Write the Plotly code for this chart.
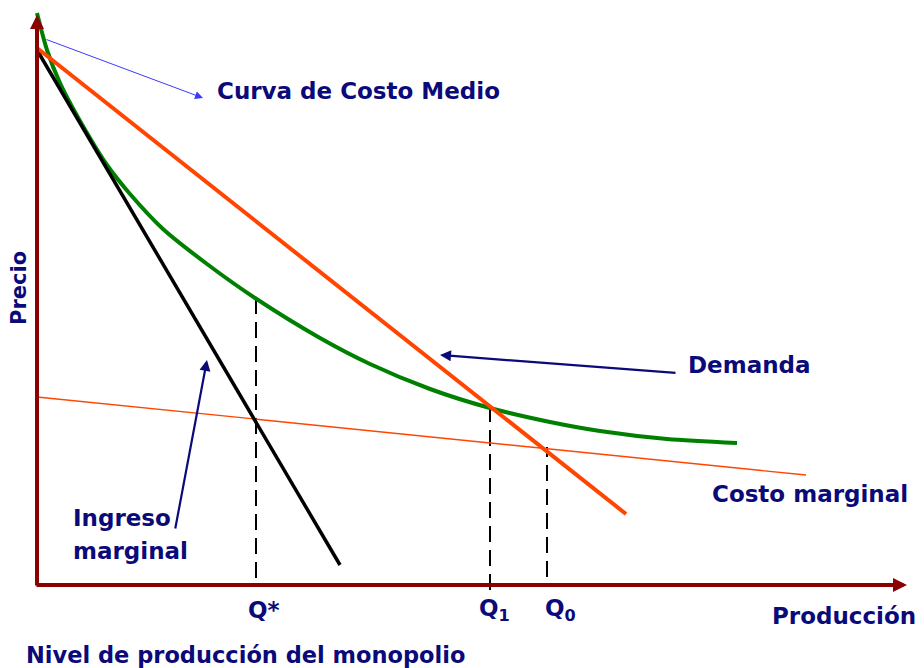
import plotly.graph_objects as go

# Coordinate system: x = output level, y = price (origin at axis corner)
# Demand curve
demand_x = [0, 589]
demand_y = [537, 71]
# Marginal revenue
mr_x = [0, 303]
mr_y = [535, 20]
# Average cost curve (Curva de Costo Medio)
ac_x = [0, 10, 23, 50, 70, 93, 126, 170, 218, 283, 333, 393, 453, 513, 563, 630, 700]
ac_y = [572, 535, 502, 452, 420, 391, 356, 321, 287, 247, 221, 196, 177, 163, 154, 146, 142]
# Marginal cost
mc_x = [0, 769]
mc_y = [188, 110]
# Quantity markers
q_names = ["Q*", "Q<sub>1</sub>", "Q<sub>0</sub>"]
q_x = [219, 453, 510]
q_top = [287, 177, 138]
q_bottom = [7, -5, 8]
q_label_x = [227, 457, 523]

NAVY = "#0a0a78"
MAROON = "#8b0000"
FONT = dict(family="DejaVu Sans", size=23, color=NAVY, weight="bold")

fig = go.Figure()

# vertical dashed lines
for qx, qt, qb in zip(q_x, q_top, q_bottom):
    fig.add_trace(go.Scatter(x=[qx, qx], y=[qb, qt], mode="lines",
                             line=dict(color="black", width=2, dash="16px,8px"),
                             hoverinfo="skip"))

fig.add_trace(go.Scatter(x=mc_x, y=mc_y, mode="lines",
                         line=dict(color="#ff4500", width=1.3), hoverinfo="skip"))
fig.add_trace(go.Scatter(x=ac_x, y=ac_y, mode="lines",
                         line=dict(color="#008000", width=4, shape="spline", smoothing=0.8),
                         hoverinfo="skip"))
fig.add_trace(go.Scatter(x=mr_x, y=mr_y, mode="lines",
                         line=dict(color="black", width=3.5), hoverinfo="skip"))
fig.add_trace(go.Scatter(x=demand_x, y=demand_y, mode="lines",
                         line=dict(color="#ff4500", width=4), hoverinfo="skip"))

anns = []
# axes
anns.append(dict(x=870, y=0, ax=-2, ay=0, xref="x", yref="y", axref="x", ayref="y",
                 showarrow=True, arrowhead=2, arrowsize=0.7, arrowwidth=4,
                 arrowcolor=MAROON, text="", standoff=0, startstandoff=0))
anns.append(dict(x=0, y=570, ax=0, ay=-2, xref="x", yref="y", axref="x", ayref="y",
                 showarrow=True, arrowhead=2, arrowsize=0.7, arrowwidth=4,
                 arrowcolor=MAROON, text="", standoff=0, startstandoff=0))
# pointer arrows
anns.append(dict(x=166, y=487, ax=8, ay=546, xref="x", yref="y", axref="x", ayref="y",
                 showarrow=True, arrowhead=2, arrowsize=1.6, arrowwidth=1,
                 arrowcolor="#3a3aff", text=""))
anns.append(dict(x=403, y=230, ax=640, ay=212, xref="x", yref="y", axref="x", ayref="y",
                 showarrow=True, arrowhead=2, arrowsize=1, arrowwidth=2.2,
                 arrowcolor=NAVY, text=""))
anns.append(dict(x=170, y=225, ax=138, ay=55, xref="x", yref="y", axref="x", ayref="y",
                 showarrow=True, arrowhead=2, arrowsize=1, arrowwidth=2.2,
                 arrowcolor=NAVY, text=""))

# labels
def lab(text, x, y, xanchor="left", font=FONT, **kw):
    d = dict(text=text, x=x, y=y, xref="x", yref="y", showarrow=False,
             xanchor=xanchor, yanchor="middle", font=font)
    d.update(kw)
    anns.append(d)

lab("Curva de Costo Medio", 178, 494)
lab("Demanda", 649, 220)
lab("Costo marginal", 673, 91)
lab("Ingreso", 34, 67)
lab("marginal", 34, 34)
for name, lx in zip(q_names, q_label_x):
    lab(name, lx, -25, xanchor="center")
lab("Producción", 733, -31)
lab("Nivel de producción del monopolio", -13, -70, font=dict(FONT, size=22.5))
lab("Precio", -18, 297, xanchor="center", textangle=-90,
    font=dict(FONT, size=21), borderpad=0)

# The page body adds an 8px offset; the figure is sized and ranged to compensate
fig.update_layout(
    width=916, height=660,
    margin=dict(l=0, r=0, t=0, b=0),
    paper_bgcolor="white", plot_bgcolor="white",
    showlegend=False,
    xaxis=dict(range=[-29, 887], visible=False, fixedrange=True),
    yaxis=dict(range=[-83, 577], visible=False, fixedrange=True),
    annotations=anns,
)
# axis lines
fig.add_shape(type="line", x0=0, y0=0, x1=862, y1=0, xref="x", yref="y",
              line=dict(color=MAROON, width=4))
fig.add_shape(type="line", x0=0, y0=0, x1=0, y1=562, xref="x", yref="y",
              line=dict(color=MAROON, width=4))

fig.write_html("out.html")
